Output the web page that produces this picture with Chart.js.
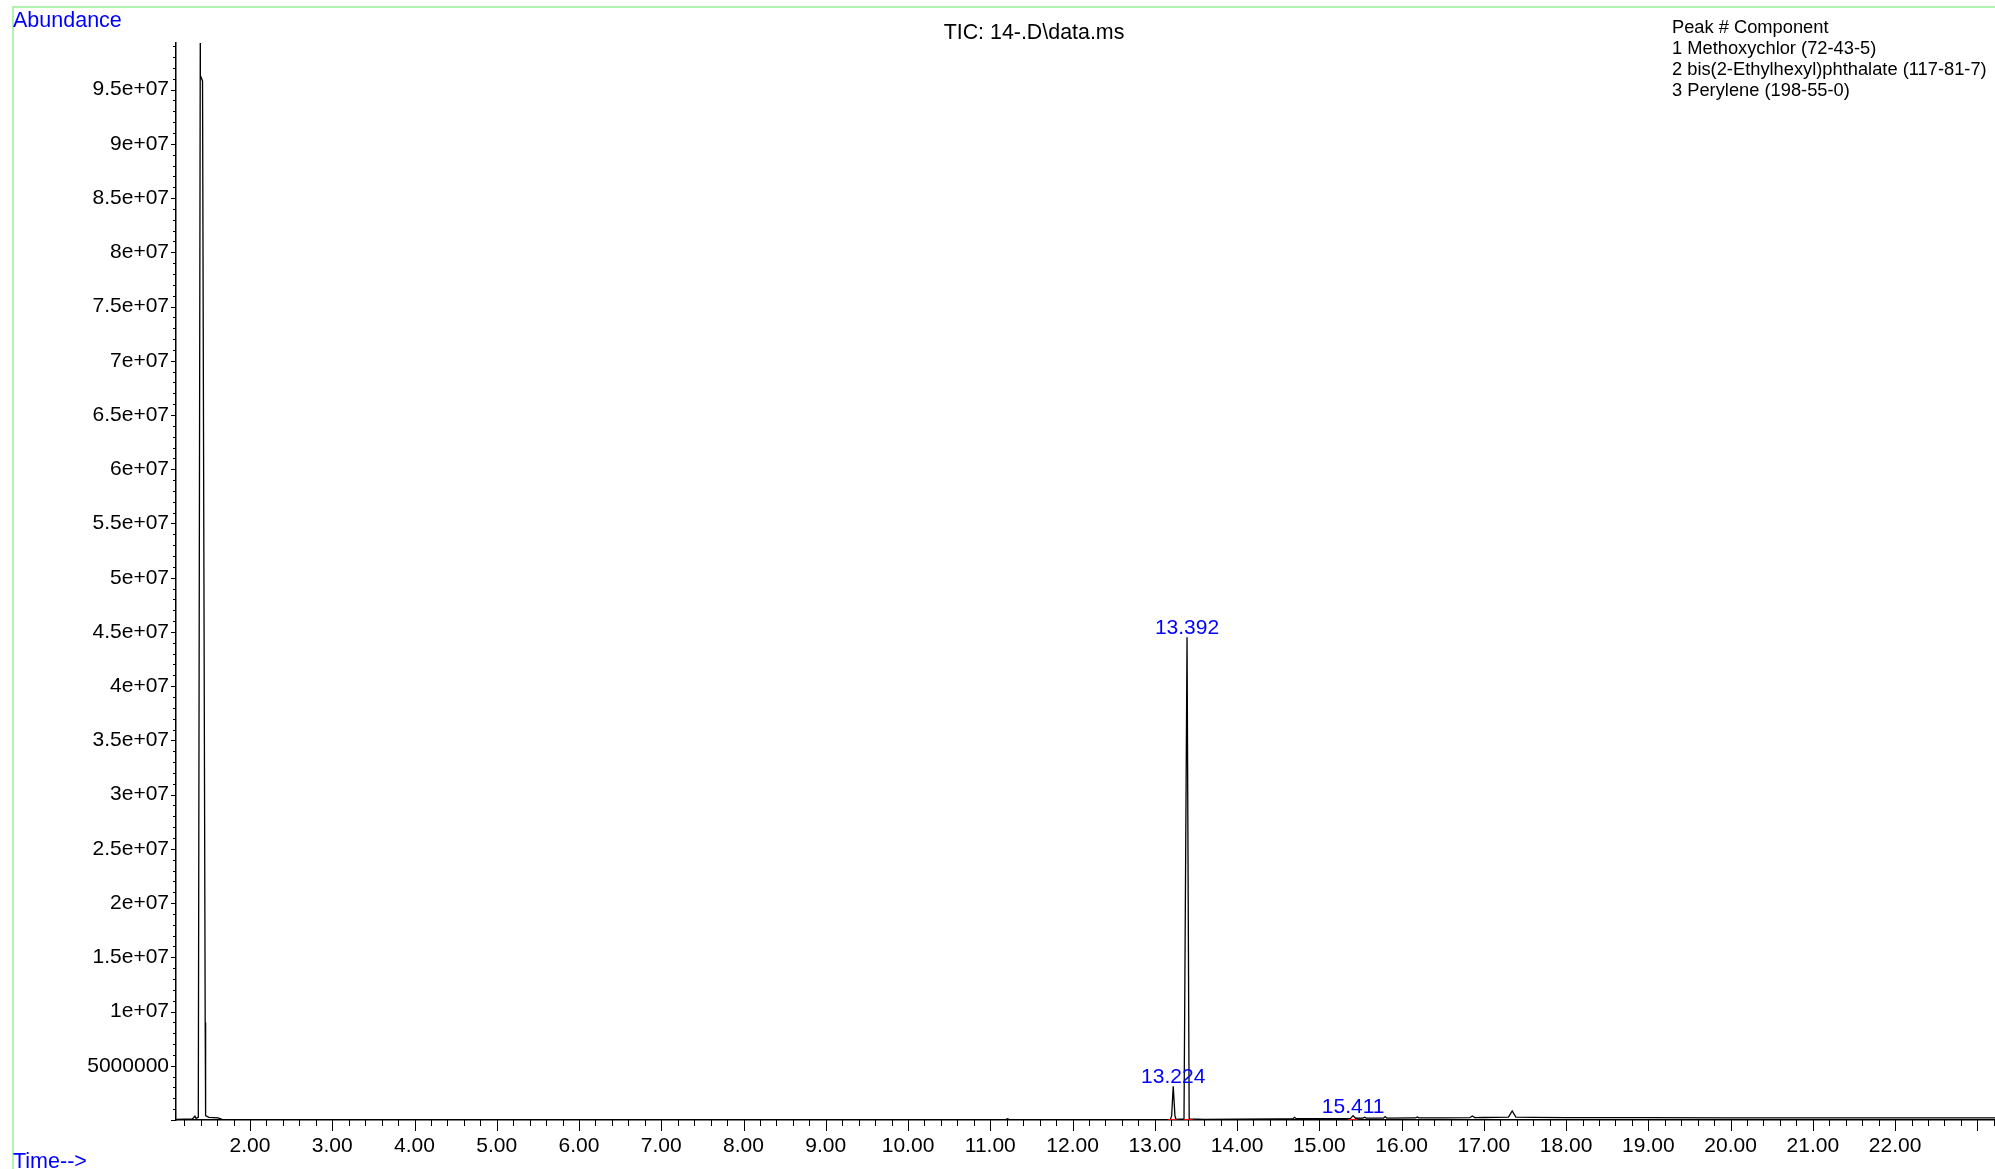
<!DOCTYPE html>
<html>
<head>
<meta charset="utf-8">
<script src="https://cdn.jsdelivr.net/npm/chart.js@4/dist/chart.umd.min.js"></script>
<style>
  html, body { margin: 0; padding: 0; background: #fff; }
  #wrap { width: 1995px; height: 1169px; }
</style>
</head>
<body>
<div id="wrap"><canvas id="tic" width="1995" height="1169"></canvas></div>
<script>
// TIC trace (time in min, abundance)
const traceTimes = [1.10, 1.30, 1.33, 1.345, 1.371, 1.3965, 1.396, 1.4225, 1.455, 1.46, 1.50, 1.61, 1.66,
    3.0, 6.0, 9.0, 11.19, 11.21, 11.23, 13.0, 13.19, 13.205, 13.224, 13.245, 13.258,
    13.355, 13.392, 13.418, 13.6, 14.0, 14.5, 14.68, 14.70, 14.72, 15.0, 15.38, 15.411, 15.44,
    15.53, 15.55, 15.57, 15.78, 15.80, 15.82, 16.17, 16.19, 16.21, 16.5, 16.83, 16.86, 16.89,
    17.0, 17.30, 17.345, 17.39, 17.6, 18.0, 19.0, 20.0, 21.0, 22.0, 23.215];
const traceAbundance = [0.05e6, 0.1e6, 0.35e6, 0.15e6, 0.25e6, 1.05e8, 9.63e7, 9.58e7, 9.0e6, 0.4e6, 0.25e6, 0.2e6, 0.05e6,
    0.02e6, 0.02e6, 0.02e6, 0.03e6, 0.12e6, 0.03e6, 0.03e6, 0.05e6, 0.4e6, 3.1e6, 0.4e6, 0.05e6,
    0.1e6, 4.45e7, 0.1e6, 0.05e6, 0.08e6, 0.1e6, 0.12e6, 0.25e6, 0.12e6, 0.13e6, 0.15e6, 0.4e6, 0.16e6,
    0.17e6, 0.25e6, 0.17e6, 0.17e6, 0.32e6, 0.18e6, 0.19e6, 0.28e6, 0.2e6, 0.2e6, 0.21e6, 0.37e6, 0.22e6,
    0.23e6, 0.27e6, 0.83e6, 0.27e6, 0.24e6, 0.22e6, 0.21e6, 0.2e6, 0.2e6, 0.2e6, 0.2e6];

// integrated peaks
const peakTimes = [13.224, 13.392, 15.411];
const peakHeights = [3.1e6, 4.45e7, 0.4e6];
const peakLabels = ["13.224", "13.392", "15.411"];
const peakStart = [13.163, 13.35, 15.35];
const peakEnd = [13.266, 13.46, 15.46];

const components = ["Peak # Component", "1 Methoxychlor (72-43-5)",
    "2 bis(2-Ethylhexyl)phthalate (117-81-7)", "3 Perylene (198-55-0)"];

const xMin = 1.10, xMax = 23.215, xStep = 0.2;
const yMin = 0, yMax = 9.93e7, yStep = 1e6;

const FONT = "'Liberation Sans', Arial, sans-serif";
const BLUE = "#0000ff";

const tracePoints = traceTimes.map((t, i) => ({ x: t, y: traceAbundance[i] }));
const basePoints = [];
peakStart.forEach((s, i) => {
    basePoints.push({ x: s, y: 0.03e6 }, { x: peakEnd[i], y: 0.03e6 }, { x: NaN, y: null });
});

// tick values (every step inside the range)
function stepValues(min, max, step) {
    const out = [];
    for (let k = Math.ceil(min / step - 1e-9); k * step <= max + 1e-9; k++) {
        out.push({ value: Math.round(k * step * 1000) / 1000 });
    }
    return out;
}

function isMult(v, step) {
    return Math.abs(v / step - Math.round(v / step)) < 1e-6;
}

function fmtY(v) {
    if (v === 0 || !isMult(v, 5e6)) return "";
    if (v < 1e7) return String(Math.round(v));
    return v.toExponential().replace(/e\+(\d)$/, "e+0$1");
}

function fmtX(v) {
    if (!isMult(v, 1) || v < 2 || v > 22.5) return "";
    return v.toFixed(2);
}

// tick marks, frame and texts
const decor = {
    id: "decor",
    afterDraw(chart) {
        const ctx = chart.ctx;
        const xs = chart.scales.x, ys = chart.scales.y;
        const area = chart.chartArea;
        ctx.save();
        ctx.strokeStyle = "#000";
        ctx.lineWidth = 1;
        ctx.beginPath();
        xs.ticks.forEach(t => {
            const len = isMult(t.value, 1) ? 11 : 6;
            const px = Math.round(xs.getPixelForValue(t.value)) + 0.5;
            ctx.moveTo(px, area.bottom);
            ctx.lineTo(px, area.bottom + len);
        });
        ys.ticks.forEach(t => {
            const len = isMult(t.value, 5e6) ? 5 : 3;
            const py = Math.round(ys.getPixelForValue(t.value)) + 0.5;
            ctx.moveTo(area.left, py);
            ctx.lineTo(area.left - len, py);
        });
        ctx.stroke();

        // green frame
        ctx.strokeStyle = "#98ee98";
        ctx.lineWidth = 1.5;
        ctx.beginPath();
        ctx.moveTo(13, 1169);
        ctx.lineTo(13, 7);
        ctx.lineTo(1995, 7);
        ctx.stroke();

        // axis names
        ctx.fillStyle = BLUE;
        ctx.textAlign = "left";
        ctx.textBaseline = "middle";
        ctx.font = "21.5px " + FONT;
        ctx.fillText("Abundance", 13, 21);
        ctx.textBaseline = "alphabetic";
        ctx.fillText("Time-->", 13, 1168);

        // title
        ctx.fillStyle = "#000";
        ctx.textAlign = "center";
        ctx.textBaseline = "middle";
        ctx.font = "21.4px " + FONT;
        ctx.fillText("TIC: 14-.D\\data.ms", 1034, 33);

        // component list
        ctx.textAlign = "left";
        ctx.font = "18.3px " + FONT;
        components.forEach((c, i) => ctx.fillText(c, 1672, 27.5 + i * 21.3));

        // peak labels
        ctx.fillStyle = BLUE;
        ctx.textAlign = "center";
        ctx.textBaseline = "alphabetic";
        ctx.font = "21px " + FONT;
        peakLabels.forEach((lab, i) => {
            const px = xs.getPixelForValue(peakTimes[i]);
            const py = ys.getPixelForValue(peakHeights[i]);
            ctx.fillText(lab, px, py - 3);
        });
        ctx.restore();
    }
};

new Chart(document.getElementById("tic"), {
    type: "scatter",
    data: {
        datasets: [{
            data: basePoints,
            showLine: true,
            spanGaps: false,
            borderColor: "#ff0000",
            borderWidth: 1.5,
            pointRadius: 0
        }, {
            data: tracePoints,
            showLine: true,
            borderColor: "#000",
            borderWidth: 1.3,
            pointRadius: 0,
            tension: 0
        }]
    },
    plugins: [decor],
    options: {
        responsive: false,
        animation: false,
        devicePixelRatio: 1,
        layout: { padding: { top: 43, left: 0, right: 0, bottom: 0 } },
        plugins: {
            legend: { display: false },
            tooltip: { enabled: false },
            title: { display: false }
        },
        scales: {
            x: {
                type: "linear",
                min: xMin,
                max: xMax,
                afterBuildTicks: s => { s.ticks = stepValues(xMin, xMax, xStep); },
                afterFit: s => { s.height = 49; s.paddingLeft = 0; s.paddingRight = 0; },
                grid: { drawOnChartArea: false, drawTicks: false },
                border: { display: true, color: "#000", width: 1.5 },
                ticks: {
                    autoSkip: false,
                    maxRotation: 0,
                    minRotation: 0,
                    padding: 14,
                    color: "#000",
                    font: { family: FONT, size: 21 },
                    callback: v => fmtX(v)
                }
            },
            y: {
                type: "linear",
                min: yMin,
                max: yMax,
                afterBuildTicks: s => { s.ticks = stepValues(yMin, yMax, yStep); },
                afterFit: s => { s.width = 176; s.paddingTop = 0; s.paddingBottom = 0; },
                grid: { drawOnChartArea: false, drawTicks: false },
                border: { display: true, color: "#000", width: 1.5 },
                ticks: {
                    autoSkip: false,
                    padding: 7,
                    color: "#000",
                    font: { family: FONT, size: 21 },
                    callback: v => fmtY(v)
                }
            }
        }
    }
});
</script>
</body>
</html>
